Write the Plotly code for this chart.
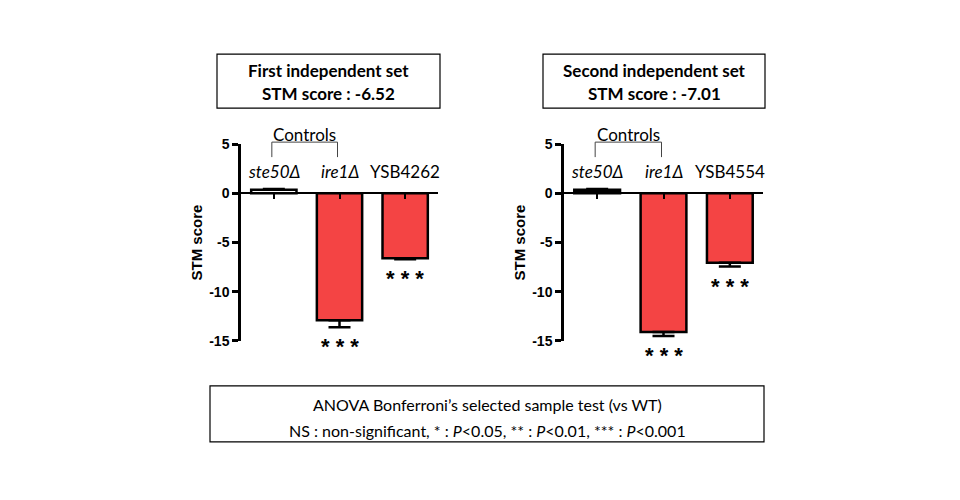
import plotly.graph_objects as go

# data
strains_1 = ["ste50Δ", "ire1Δ", "YSB4262"]
scores_1 = [0.35, -12.9, -6.6]
sem_1 = [0.1, 0.7, 0.1]

strains_2 = ["ste50Δ", "ire1Δ", "YSB4554"]
scores_2 = [0.35, -14.1, -7.05]
sem_2 = [0.1, 0.4, 0.4]

italic_label = [True, True, False]
stars = ["", "* * *", "* * *"]
controls = [0, 1]  # indices bracketed as controls

y_ticks = [-15, -10, -5, 0, 5]
y_ticktext = ["-15", "-10", "-5", "0", "5"]

set_titles = ["First independent set", "Second independent set"]
set_scores = [-6.52, -7.01]

colors_1 = ["white", "#F44444", "#F44444"]
colors_2 = ["black", "#F44444", "#F44444"]

TXT = "Lato"
AX = "Liberation Sans"
W, H = 960, 500
# the page photo ends up slightly squeezed vertically, so place things a bit outward
SQ, OFF = 0.969, 7.75


def px(x):
    return x / W


def py(y):
    return 1 - ((y - OFF) / SQ) / H


fig = go.Figure()

panels = [
    (strains_1, scores_1, sem_1, colors_1, "x", "y", [px(241), px(438)], [px(217), px(440)]),
    (strains_2, scores_2, sem_2, colors_2, "x2", "y2", [px(564), px(763)], [px(543), px(765)]),
]
ydom = [py(341), py(144)]
yrng = [-15, 5]
zero_pos = ydom[0] + (0 - yrng[0]) / (yrng[1] - yrng[0]) * (ydom[1] - ydom[0])

for k, (names, vals, errs, cols, xa, ya, xdom, box) in enumerate(panels):
    idx = list(range(len(names)))
    up = [e if v >= 0 else 0 for v, e in zip(vals, errs)]
    down = [e if v < 0 else 0 for v, e in zip(vals, errs)]
    fig.add_trace(go.Bar(
        x=idx, y=vals, width=0.69, xaxis=xa, yaxis=ya,
        marker=dict(color=cols, line=dict(color="black", width=2.5)),
        error_y=dict(type="data", symmetric=False, array=up, arrayminus=down,
                     color="black", thickness=2.5, width=11),
        showlegend=False,
    ))
    sfx = "" if k == 0 else "2"
    fig.update_layout({
        "xaxis" + sfx: dict(domain=xdom, range=[-0.5, 2.5], anchor="free",
                            position=zero_pos, showline=True, linecolor="black",
                            linewidth=2, ticks="outside", ticklen=5, tickwidth=2,
                            tickcolor="black", tickvals=idx, showticklabels=False,
                            showgrid=False, zeroline=False, fixedrange=True),
        "yaxis" + sfx: dict(domain=ydom, range=yrng, anchor=xa,
                            showline=True, linecolor="black", linewidth=2.5,
                            ticks="outside", ticklen=6, tickwidth=2.5, tickcolor="black",
                            tickvals=y_ticks, ticktext=y_ticktext,
                            showgrid=False, zeroline=False,
                            tickfont=dict(family=AX, size=14, color="black", weight="bold")),
    })

    # category labels above the bars
    for i, name in enumerate(names):
        txt = f"<i>{name}</i>" if italic_label[i] else name
        fig.add_annotation(x=i, y=2.2, xref=xa, yref=ya, text=txt, showarrow=False,
                           xanchor="center", yanchor="middle",
                           font=dict(family=TXT, size=17, color="black"))
        if stars[i]:
            fig.add_annotation(x=i, y=vals[i] - errs[i], xref=xa, yref=ya,
                               text=stars[i], showarrow=False, xanchor="center",
                               yanchor="top", yshift=-5,
                               font=dict(family=AX, size=22, color="black", weight="bold"))

    # controls bracket (paper coords so it can sit above the axis range)
    c0, c1 = controls
    xw = xdom[1] - xdom[0]
    bx_a = xdom[0] + (c0 + 0.5) / 3 * xw - px(2)
    bx_b = xdom[0] + (c1 + 0.5) / 3 * xw - px(2)
    fig.add_shape(type="path", xref="paper", yref="paper",
                  path=f"M {bx_a},{py(157)} L {bx_a},{py(142)} L {bx_b},{py(142)} L {bx_b},{py(157)}",
                  line=dict(color="#444444", width=1))
    fig.add_annotation(x=(bx_a + bx_b) / 2, y=py(134), xref="paper", yref="paper",
                       text="Controls", showarrow=False, xanchor="center", yanchor="middle",
                       font=dict(family=TXT, size=17, color="black"))

    # y axis title
    fig.add_annotation(x=xdom[0], y=(ydom[0] + ydom[1]) / 2, xref="paper", yref="paper",
                       xshift=-44, text="STM score", textangle=-90, showarrow=False,
                       xanchor="center", yanchor="middle",
                       font=dict(family=AX, size=15, color="black", weight="bold"))

    # title box
    fig.add_shape(type="rect", xref="paper", yref="paper", x0=box[0], x1=box[1],
                  y0=py(108), y1=py(54), line=dict(color="black", width=1.2))
    for line_txt, yy in [(set_titles[k], 70), (f"STM score : {set_scores[k]}", 93)]:
        fig.add_annotation(x=(box[0] + box[1]) / 2, y=py(yy), xref="paper", yref="paper",
                           text=f"<b>{line_txt}</b>", showarrow=False,
                           xanchor="center", yanchor="middle",
                           font=dict(family=TXT, size=17, color="black"))

# bottom legend box
fig.add_shape(type="rect", xref="paper", yref="paper", x0=px(210), x1=px(764),
              y0=py(442), y1=py(386), line=dict(color="black", width=1.2))
legend_lines = [
    "ANOVA Bonferroni’s selected sample test (vs WT)",
    "NS : non-significant, * : <i>P</i><0.05, ** : <i>P</i><0.01, *** : <i>P</i><0.001",
]
for line_txt, yy in zip(legend_lines, [405, 431]):
    fig.add_annotation(x=px(487), y=py(yy), xref="paper", yref="paper",
                       text=line_txt, showarrow=False, xanchor="center", yanchor="middle",
                       font=dict(family=TXT, size=16, color="black"))

fig.update_layout(width=W, height=H, margin=dict(l=0, r=0, t=0, b=0),
                  plot_bgcolor="white", paper_bgcolor="white")

fig.write_html("out.html", config={"displayModeBar": False},
               post_script="document.body.style.margin='0';")
